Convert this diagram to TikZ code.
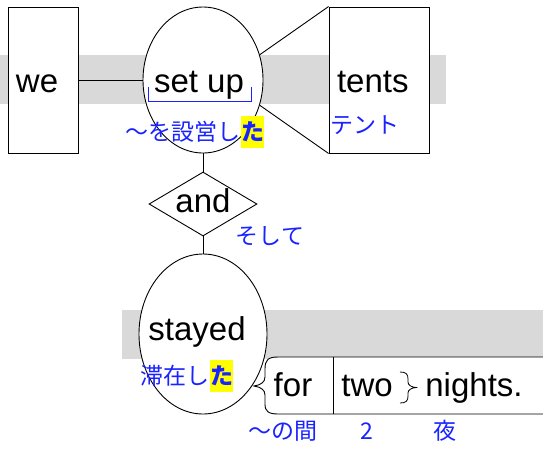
\documentclass[tikz,border=0pt]{standalone}
\usepackage{fontspec}
\setmainfont{Liberation Sans}
\newfontfamily\jpfont{Noto Sans CJK JP}
\usepackage{tikz}
\usetikzlibrary{shapes.geometric, positioning, calc}
\definecolor{glossblue}{RGB}{25, 35, 255}
\definecolor{bandgray}{RGB}{217, 217, 217}
\definecolor{keyyellow}{RGB}{255, 255, 0}

\begin{document}
\begin{tikzpicture}[
    x=1pt, y=1pt,
    every node/.style={inner sep=0pt},
    word/.style={font=\fontsize{33}{40}\selectfont, text height=24, text depth=7},
    wordbox/.style={rectangle, draw, line width=0.9pt, fill=white, minimum height=146, inner xsep=8, text width=#1, align=left, font=\fontsize{33}{40}\selectfont, text height=32, text depth=7},
    oval/.style={ellipse, draw, line width=0.9pt, fill=white},
    gloss/.style={font=\jpfont\fontsize{23}{28}\selectfont, text=glossblue},
    glosskey/.style={font=\jpfont\bfseries\fontsize{23}{28}\selectfont, text=glossblue, fill=keyyellow, minimum width=22, minimum height=32},
    link/.style={line width=0.9pt}
]
    \useasboundingbox (0,0) rectangle (543,-448);

    % grey bands behind the two clauses
    \fill[bandgray] (0,-55) rectangle (446,-104);
    \fill[bandgray] (122,-310) rectangle (543,-359);

    \node[wordbox=54] (we) at (43,-80) {we};
    \node[oval, minimum width=120, minimum height=146] (setup) at (203,-80) {};
    \node[word] (setupW) at (199,-84) {set up};
    \node[wordbox=84] (tents) at (379,-80) {tents};

    \node[diamond, draw, line width=0.9pt, fill=white, word, shape aspect=1.69, minimum width=108, minimum height=64] (and) at (203,-204) {and};

    \node[oval, minimum width=128, minimum height=160] (stayed) at (203,-334) {};
    \node[word] (stayedW) at (197,-332) {stayed};

    % phrase box with brace
    \draw[link, fill=white] (543,-357) -- (278,-357) .. controls (268,-357) and (265,-360) .. (265,-369) -- (265,-377)
        .. controls (265,-382) and (261,-385) .. (254,-386) .. controls (261,-387) and (265,-390) .. (265,-395)
        -- (265,-404) .. controls (265,-411) and (268,-414) .. (278,-414) -- (543,-414);
    \draw[link] (333,-357) -- (333,-414);
    \node[word] (forW) at (293,-388) {for};
    \node[word] (twoW) at (367,-388) {two};
    \node[word] (nightsW) at (474,-388) {nights.};
    \draw[line width=0.8pt] (400,-372) .. controls (406,-372) and (408,-374) .. (408,-379) -- (408,-382)
        .. controls (408,-385) and (411,-387) .. (416,-387.5) .. controls (411,-388) and (408,-390) .. (408,-393)
        -- (408,-396) .. controls (408,-401) and (406,-403) .. (400,-403);

    \draw[link] (we.east) -- (setup.west);
    \draw[link] (setup.24) -- (tents.north west);
    \draw[link] (setup.-24) -- (tents.south west);
    \draw[link] (setup.south) -- (and.north);
    \draw[link] (and.south) -- (stayed.north);

    \draw[glossblue, line width=0.8pt] ($(setup)+(-55,-7)$) -- ++(0,-14) -| ($(setup)+(48,-7)$);

    \node[gloss, anchor=east] (setupJp) at (241,-132) {〜を設営し};
    \node[glosskey, right=0pt of setupJp] (setupKey) {た};
    \node[gloss] (tentsJp) at (365,-125) {テント};
    \node[gloss] (andJp) at (270,-236) {そして};
    \node[gloss, anchor=east] (stayedJp) at (210,-376) {滞在し};
    \node[glosskey, right=0pt of stayedJp] (stayedKey) {た};
    \node[gloss] (forJp) at (283,-431) {〜の間};
    \node[gloss] (twoJp) at (367,-431) {2};
    \node[gloss] (nightsJp) at (445,-431) {夜};
\end{tikzpicture}
\end{document}
